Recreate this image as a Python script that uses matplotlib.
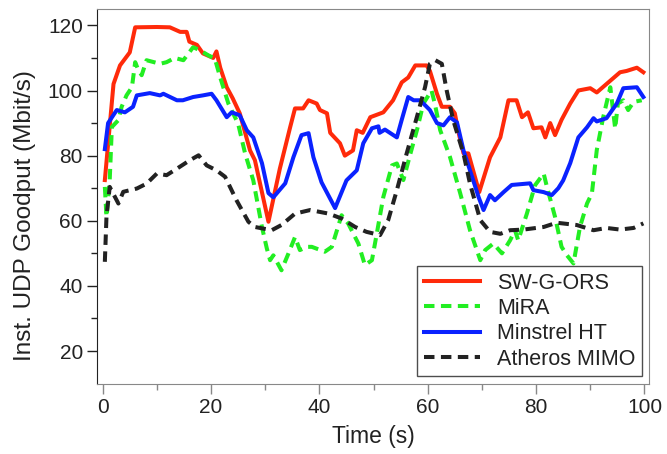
import matplotlib
matplotlib.use('Agg')
import matplotlib.pyplot as plt

plt.rcParams['font.family'] = ['Liberation Sans', 'DejaVu Sans']

# SW-G-ORS
t_ors = [0.4, 2, 3.2, 5, 6, 10, 12.4, 14.3, 15.5, 16, 17.4, 18.5, 20.4, 21, 21.7,
         22.9, 24, 25.3, 27.2, 28.1, 30.6, 32.7, 34.6, 35.5, 37, 38, 39.5, 40.1,
         41.4, 42, 43.8, 44.7, 46.2, 46.9, 48, 49.4, 51.8, 53.6, 55.2, 56.4, 57.7,
         59.8, 60.4, 61.7, 62.6, 64.1, 65, 65.7, 66.6, 67.5, 69.5, 71.5, 73.4,
         74.9, 76.4, 77.4, 78.5, 79.5, 81, 81.7, 82.6, 83.5, 84.7, 86.3, 87.8, 90,
         91.2, 93, 95.5, 96.7, 98.6, 99.8]
v_ors = [72.5, 102, 107.7, 111.7, 119.4, 119.5, 119.4, 118, 118, 115, 114, 111.4,
         110, 112, 107, 101, 97.6, 93, 81.6, 78.6, 59.7, 76, 88.7, 94.5, 94.5, 97,
         96, 94, 93, 87, 83.8, 80, 81.6, 87.8, 87, 91.8, 93.3, 97, 102.5, 104,
         107.7, 107.7, 106, 99, 95, 95, 93, 87, 80.7, 80.7, 68.8, 79.5, 85.6, 97,
         97, 91.8, 93.3, 88.4, 88.7, 85.6, 90, 86.3, 91, 96, 100, 100.7, 99.4, 102,
         105.6, 106, 107, 105.6]

# MiRA
t_mira = [0.4, 0.7, 1.3, 1.7, 2.9, 3.5, 4.4, 5.4, 6, 6.6, 7.2, 8.1, 10.6, 11.8,
          13.3, 14.9, 16.7, 18, 19.5, 20.7, 21.7, 23.2, 25, 26.3, 27.8, 29.4, 30.3,
          30.9, 31.5, 33, 34.3, 35.5, 36.4, 37.7, 38.6, 41, 42.3, 44.1, 45.3, 47.2,
          48.4, 49.7, 50.6, 51.8, 53.4, 54.3, 55.5, 56.7, 58, 59.2, 60.7, 61.3,
          62.3, 64.1, 66, 67.8, 69.7, 70.6, 72.1, 73.7, 75.2, 76.1, 76.7, 78.3,
          79.8, 81.4, 82, 83.5, 84.7, 85.7, 86.9, 88.1, 89.4, 90.3, 91.2, 92.4,
          93.7, 94.6, 95.1, 96.1, 97, 98, 99.5]
v_mira = [70.4, 61.2, 72.5, 88.8, 90.9, 95, 98.5, 101, 108.7, 106.2, 104.7, 109.3,
          108.2, 108.7, 110, 109.3, 113.3, 112.3, 110.8, 109.8, 104, 96, 89.8,
          80.6, 72.4, 58.1, 51.5, 47.9, 49.4, 44.8, 50, 55, 51, 52, 52, 50.5, 52,
          61.7, 59.2, 53, 46.4, 47.9, 56.1, 67.3, 77, 77.6, 72.5, 80, 87.8, 96,
          100, 96, 87.8, 79.6, 68.4, 57.1, 47.9, 51, 53, 50, 54, 57.1, 54, 62.2,
          70.9, 74.5, 70.4, 61.2, 52, 49.4, 46.9, 58.1, 65.3, 68.4, 81.7, 91.9,
          101, 88.3, 96, 97, 94, 96.5, 97]

# Minstrel HT
t_min = [0.4, 1, 2.6, 4.1, 5.6, 6.3, 8.7, 10.6, 11.2, 13.7, 14.8, 16.7, 18.5,
         20.1, 21, 22.9, 23.8, 25.3, 26.6, 27.8, 29.4, 30.6, 31.5, 33.7, 35.2,
         36.7, 38, 38.9, 40.4, 42.9, 45, 46.9, 48.1, 49.7, 50.9, 51.1, 52.1, 54.3,
         55.2, 56.4, 57.4, 58.6, 60.4, 61.7, 62.9, 64.1, 65.4, 66.6, 68.4, 69.4,
         70.3, 71.5, 72.4, 74, 75.5, 78.9, 79.5, 81.4, 82.9, 84.1, 85, 86.3, 87.8,
         89.4, 90.6, 91.2, 93, 94.9, 96.1, 98.6, 99.8]
v_min = [82, 90, 94, 93.3, 95, 98.5, 99.2, 98.5, 99, 97, 97, 98, 98.5, 99, 97,
         91.8, 93.3, 92.4, 87.8, 85.6, 77.7, 68.5, 67.2, 71.5, 79.5, 86.3, 86.9,
         79.5, 71.8, 63.9, 72.4, 75.5, 83.8, 88.4, 89, 87, 88, 85.6, 91, 98, 97,
         97, 94, 90, 89.3, 91.8, 90.2, 81.6, 72.4, 67.2, 63.3, 67.9, 66.3, 68.8,
         71, 71.5, 69.4, 68.8, 67.9, 70, 72.4, 77.7, 85.6, 88.7, 91.5, 90.5, 91.5,
         96, 100.7, 101, 98]

# Atheros MIMO
t_ath = [0.4, 0.7, 1.3, 2.9, 3.8, 6.3, 8.1, 10, 11.8, 13.7, 16.1, 17.7, 19.2, 21,
         22.6, 24.7, 26.9, 28.1, 31.2, 33, 35.5, 38.3, 41.7, 44.1, 46.6, 48.7,
         51.2, 52.7, 54.3, 56.1, 58, 59.5, 60.4, 61.4, 62.6, 63.5, 64.7, 66.6,
         67.8, 69.7, 71.5, 73.4, 75.2, 77.7, 81.4, 83.8, 87.5, 90.6, 93, 95.5, 98,
         99.8]
v_ath = [47.4, 61.2, 70.4, 65.3, 68.9, 69.9, 71.4, 74.5, 74, 76, 78.6, 80.1, 77,
         75.5, 73.5, 66.3, 59.7, 58.1, 57.1, 58.7, 62.2, 63.3, 62.2, 60.7, 58.1,
         56.6, 55.6, 60.2, 69.4, 80.6, 91.9, 101, 108.2, 109.3, 108.2, 100, 90.9,
         80.6, 71.4, 60.2, 56.6, 56, 57.1, 57.3, 58.1, 59.4, 58.7, 57.1, 57.8,
         57.3, 57.8, 59.2]

fig = plt.figure(figsize=(6.67, 4.54), dpi=100)
ax = fig.add_axes([0.145, 0.155, 0.8285, 0.825])

lw = 2.9
ax.plot(t_ors, v_ors, color='#ff2a0a', lw=lw, label='SW-G-ORS')
ax.plot(t_mira, v_mira, color='#22ee22', lw=lw, dashes=(2.6, 1.6), label='MiRA')
ax.plot(t_min, v_min, color='#0a22ff', lw=lw, label='Minstrel HT')
ax.plot(t_ath, v_ath, color='#222222', lw=lw, dashes=(2.6, 1.6), label='Atheros MIMO')

ax.set_xlim(-1.1, 100.9)
ax.set_ylim(10, 125)
ax.set_xticks(range(0, 101, 20))
ax.set_xticks(range(10, 100, 20), minor=True)
ax.set_yticks(range(20, 121, 20))
ax.set_yticks(range(30, 120, 20), minor=True)

for s in ['top', 'right', 'bottom']:
    ax.spines[s].set_color('#888888')
ax.spines['left'].set_color('#222222')
ax.tick_params(axis='both', which='major', length=7, width=1, labelsize=15,
               direction='out', pad=3)
ax.tick_params(axis='both', which='minor', length=4, width=1, direction='out')
ax.tick_params(axis='x', which='both', color='#888888', labelcolor='#222222')
ax.tick_params(axis='y', which='both', color='#222222', labelcolor='#222222')

ax.set_xlabel('Time (s)', fontsize=16.5, color='#222222', labelpad=6)
ax.set_ylabel('Inst. UDP Goodput (Mbit/s)', fontsize=17.5, color='#222222')
ax.yaxis.set_label_coords(-0.11, 0.45)

leg = ax.legend(loc='lower right', fontsize=15.5, frameon=True, fancybox=False,
                edgecolor='#222222', handlelength=2.6, handletextpad=0.8,
                labelspacing=0.2, borderpad=0.3, borderaxespad=0.35)
leg.get_frame().set_linewidth(1.0)
for txt in leg.get_texts():
    txt.set_color('#222222')

fig.savefig('out.png', dpi=100)
